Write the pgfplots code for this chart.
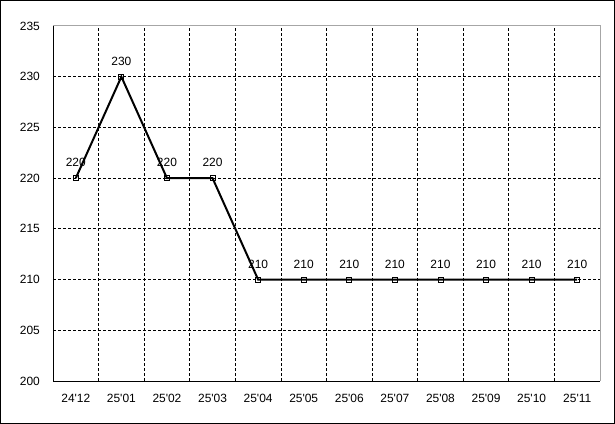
\documentclass[border=0pt]{standalone}
\usepackage{fontspec}
\setmainfont{Liberation Sans}
\usepackage{pgfplots}
\pgfplotsset{compat=1.18}
\begin{document}
\begin{tikzpicture}
\begin{axis}[
  scale only axis, width=547bp, height=355bp,
  xmin=0, xmax=12, ymin=200, ymax=235,
  axis x line*=bottom, axis y line*=left,
  axis line style={black, line width=1bp},
  xtick={0.5,1.5,...,11.5},
  xticklabels={24\textquotesingle12,25\textquotesingle01,25\textquotesingle02,25\textquotesingle03,25\textquotesingle04,25\textquotesingle05,25\textquotesingle06,25\textquotesingle07,25\textquotesingle08,25\textquotesingle09,25\textquotesingle10,25\textquotesingle11},
  minor xtick={1,2,...,11},
  ytick={205,210,...,230},
  extra y ticks={200,235},
  extra y tick style={grid=none},
  xminorgrids, ymajorgrids,
  major grid style={black, line width=0.8bp, dash pattern=on 3bp off 2bp},
  minor grid style={black, line width=0.8bp, dash pattern=on 3bp off 2bp},
  major tick length=0pt, minor tick length=0pt,
  tick label style={font=\fontsize{12}{14}\selectfont},
  yticklabel style={anchor=east, inner sep=0pt, xshift=-13bp},
  xticklabel style={anchor=north, inner sep=0pt, yshift=-13bp},
  /pgf/number format/assume math mode=true,
  clip=false,
]
\draw[gray!70, line width=1bp] (rel axis cs:0,1) -- (rel axis cs:1,1) -- (rel axis cs:1,0);
\addplot[black, line width=2bp, mark=square, mark size=2.5bp,
  mark options={solid, line width=0.8bp, fill=white},
  nodes near coords,
  nodes near coords style={anchor=south, inner sep=0pt, yshift=11bp, font=\fontsize{12}{14}\selectfont}]
  coordinates {(0.5,220) (1.5,230) (2.5,220) (3.5,220) (4.5,210) (5.5,210) (6.5,210) (7.5,210) (8.5,210) (9.5,210) (10.5,210) (11.5,210)};
\end{axis}
\draw[line width=1bp] ([shift={(-52.5bp,-42.5bp)}]current axis.south west) rectangle ([shift={(14.5bp,25.5bp)}]current axis.north east);
\end{tikzpicture}
\end{document}
